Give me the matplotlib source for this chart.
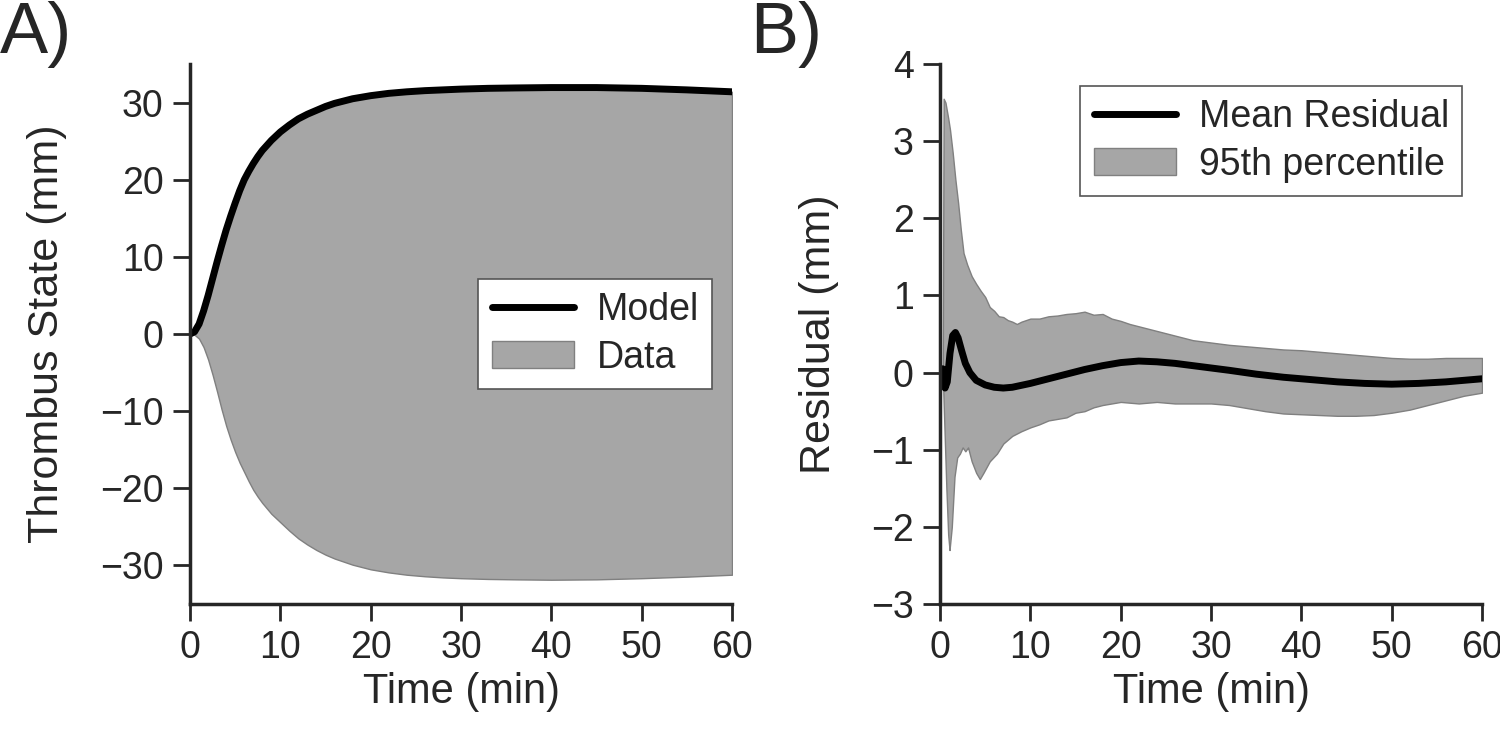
import matplotlib
matplotlib.use("Agg")
import matplotlib.pyplot as plt
import numpy as np

# panel A: model curve and data envelope
t_model = [0, 0.5, 1, 1.5, 2, 2.5, 3, 3.5, 4, 4.5, 5, 5.5, 6, 6.5, 7, 7.5, 8, 9, 10, 11, 12,
           13, 14, 15, 16, 17, 18, 19, 20, 22, 24, 26, 28, 30, 33, 36, 40, 45, 50, 55, 60]
model = [0, 0.3, 1.3, 3.0, 5.0, 7.2, 9.4, 11.5, 13.5, 15.3, 17.0, 18.6, 20.0, 21.1, 22.1,
         23.0, 23.8, 25.1, 26.2, 27.1, 27.9, 28.5, 29.0, 29.5, 29.9, 30.2, 30.5, 30.7, 30.9,
         31.2, 31.4, 31.55, 31.65, 31.75, 31.85, 31.9, 31.95, 31.95, 31.85, 31.65, 31.4]
data_lo = [0, -0.1, -0.6, -1.7, -3.3, -5.3, -7.5, -9.8, -11.9, -13.7, -15.3, -16.7, -17.9,
           -19.1, -20.2, -21.1, -21.9, -23.3, -24.4, -25.5, -26.5, -27.3, -28.0, -28.6, -29.1,
           -29.5, -29.9, -30.2, -30.5, -30.9, -31.2, -31.4, -31.55, -31.65, -31.75, -31.8,
           -31.85, -31.8, -31.65, -31.45, -31.2]

# panel B: mean residual and 95th percentile band
t_mean = [0.3, 0.55, 0.8, 1.1, 1.4, 1.7, 2.0, 2.4, 2.8, 3.3, 4, 5, 6, 7, 8, 10, 12, 14, 16,
          18, 20, 22, 24, 26, 28, 30, 32, 35, 38, 41, 44, 47, 50, 53, 56, 58, 60]
mean_res = [0.05, -0.2, -0.12, 0.25, 0.48, 0.52, 0.45, 0.28, 0.12, 0.0, -0.1, -0.16, -0.19,
            -0.2, -0.19, -0.14, -0.08, -0.02, 0.04, 0.09, 0.13, 0.15, 0.14, 0.12, 0.09, 0.06,
            0.03, -0.02, -0.06, -0.09, -0.12, -0.14, -0.15, -0.14, -0.12, -0.1, -0.08]

t_up = [0.3, 0.4, 0.6, 0.9, 1.1, 1.4, 1.7, 2.0, 2.3, 2.6, 3.0, 3.5, 4.0, 4.5, 5.0, 5.5, 6.0,
        6.5, 7.0, 7.5, 8.0, 8.5, 9, 10, 11, 12, 13, 14, 15, 16, 17, 18, 19, 20, 21, 22, 24,
        26, 28, 30, 32, 34, 36, 38, 40, 42, 44, 46, 48, 50, 52, 54, 56, 58, 60]
band_hi = [0.0, 3.55, 3.5, 3.3, 3.15, 2.85, 2.5, 2.2, 1.85, 1.55, 1.4, 1.25, 1.15, 1.06, 0.98,
           0.85, 0.8, 0.73, 0.72, 0.68, 0.66, 0.63, 0.66, 0.7, 0.7, 0.73, 0.74, 0.76, 0.77,
           0.79, 0.75, 0.76, 0.7, 0.67, 0.63, 0.6, 0.54, 0.48, 0.42, 0.39, 0.36, 0.34, 0.32,
           0.30, 0.29, 0.27, 0.25, 0.23, 0.21, 0.19, 0.18, 0.18, 0.19, 0.19, 0.19]
t_lo = [0.3, 0.4, 0.7, 0.9, 1.05, 1.3, 1.6, 1.9, 2.2, 2.5, 2.8, 3.1, 3.5, 4.0, 4.4, 4.8, 5.5,
        6.3, 7, 8, 9, 10, 11, 12, 13, 14, 15, 16, 17, 18, 20, 22, 24, 26, 28, 30, 32, 34,
        36, 38, 40, 42, 44, 46, 48, 50, 52, 54, 56, 58, 60]
band_lo = [0.0, -0.4, -1.5, -2.1, -2.3, -2.0, -1.35, -1.1, -1.05, -0.97, -1.02, -0.97, -1.15,
           -1.3, -1.38, -1.3, -1.15, -1.05, -0.92, -0.82, -0.76, -0.71, -0.67, -0.62, -0.6,
           -0.58, -0.52, -0.5, -0.45, -0.42, -0.38, -0.40, -0.38, -0.40, -0.40, -0.40, -0.42,
           -0.46, -0.5, -0.53, -0.54, -0.55, -0.56, -0.56, -0.55, -0.52, -0.48, -0.42, -0.36,
           -0.3, -0.26]

#style
DARK = "#262626"
FILL = "#a6a6a6"
EDGE = "#808080"
plt.rcParams["font.family"] = ["Liberation Sans", "DejaVu Sans"]
plt.rcParams["font.size"] = 27
plt.rcParams["text.color"] = DARK
plt.rcParams["axes.labelcolor"] = DARK
plt.rcParams["xtick.color"] = DARK
plt.rcParams["ytick.color"] = DARK

fig = plt.figure(figsize=(15, 7.36), dpi=100)
ax1 = fig.add_axes([0.1267, 0.1793, 0.3613, 0.7337])
ax2 = fig.add_axes([0.6267, 0.1793, 0.3613, 0.7337])

#band edges onto a common grid for fill_between
tb = np.union1d(t_up, t_lo)
hi = np.interp(tb, t_up, band_hi)
lo = np.interp(tb, t_lo, band_lo)

ax1.fill_between(t_model, data_lo, model, facecolor=FILL, edgecolor=EDGE, linewidth=1, label="Data")
ax1.plot(t_model, model, color="black", linewidth=5, label="Model", solid_capstyle="round")

ax2.fill_between(tb, lo, hi, facecolor=FILL, edgecolor=EDGE, linewidth=1, label="95th percentile")
ax2.plot(t_mean, mean_res, color="black", linewidth=5, label="Mean Residual", solid_capstyle="round")

for ax in (ax1, ax2):
    ax.spines["top"].set_visible(False)
    ax.spines["right"].set_visible(False)
    for s in ("left", "bottom"):
        ax.spines[s].set_linewidth(2.5)
        ax.spines[s].set_color(DARK)
    ax.tick_params(direction="out", length=12, width=2, labelsize=27, pad=7)
    ax.set_xlim(0, 60)
    ax.set_xticks([0, 10, 20, 30, 40, 50, 60])
    ax.set_xlabel("Time (min)", fontsize=30, labelpad=4)

ax1.set_ylim(-35, 35)
ax1.set_yticks([-30, -20, -10, 0, 10, 20, 30])
ax1.set_ylabel("Thrombus State (mm)", fontsize=31, labelpad=24)
ax2.set_ylim(-3, 4)
ax2.set_yticks([-3, -2, -1, 0, 1, 2, 3, 4])
ax2.set_ylabel("Residual (mm)", fontsize=31, labelpad=23)

leg_kw = dict(fancybox=False, fontsize=27, handlelength=2.2, borderpad=0.35,
              labelspacing=0.3, handletextpad=0.6, borderaxespad=0)
h, l = ax1.get_legend_handles_labels()
leg1 = ax1.legend(h[::-1], l[::-1], loc="center right", bbox_to_anchor=(0.963, 0.5), **leg_kw)
h, l = ax2.get_legend_handles_labels()
leg2 = ax2.legend(h[::-1], l[::-1], loc="upper right", bbox_to_anchor=(0.963, 0.959), **leg_kw)
for leg in (leg1, leg2):
    leg.get_frame().set_edgecolor("#555555")
    leg.get_frame().set_linewidth(1.2)
    leg.get_frame().set_alpha(1)

fig.text(0.0, 0.999, "A)", fontsize=52, va="top", ha="left")
fig.text(0.5, 0.999, "B)", fontsize=52, va="top", ha="left")

fig.savefig("out.png", dpi=100)
